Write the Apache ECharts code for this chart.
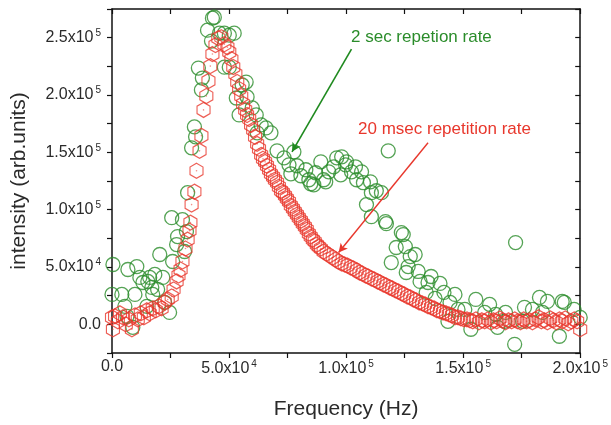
<!DOCTYPE html>
<html>
<head>
<meta charset="utf-8">
<script src="https://cdn.jsdelivr.net/npm/echarts@6/dist/echarts.min.js"></script>
<style>
html,body{margin:0;padding:0;background:#fff;}
#chart{width:611px;height:425px;}
</style>
</head>
<body>
<div id="chart"></div>
<script>
// ---- data (Frequency in Hz, intensity in arb. units) ----
const greenPoints = [
[400,52200],[0,26100],[4200,26100],[5500,15700],[6400,7000],[6800,47800],[8900,-2600],[9800,26100],[10600,50400],[11900,40900],
[13200,36500],[14900,15700],[15300,37400],[16100,40900],[17000,32200],[17400,26100],[18300,43500],[19500,30400],[20400,60900],[21700,40900],
[22500,19100],[24600,10400],[25500,93000],[25900,54800],[27600,69600],[28000,76500],[30100,91300],[31000,63500],[31800,80900],[32300,114800],
[34000,153900],[35200,172200],[35700,163500],[36900,223500],[38200,204400],[38600,214800],[40800,256500],[42500,247000],[42900,267000],[43700,267800],
[45900,253900],[48000,253900],[48000,224300],[50100,252200],[50100,224300],[52200,253900],[53100,197400],[55600,208700],[57300,211300],[54300,182600],
[57700,198300],[59900,188700],[61600,182600],[62000,167000],[63700,173900],[65800,171300],[67900,167000],[70500,151300],[73500,145200],[75600,139100],
[76400,131300],[77700,150400],[79000,138300],[80700,129600],[82800,134800],[84100,126100],[84900,122600],[87000,132200],[86200,121700],[89200,141700],
[90400,126100],[91300,124300],[92600,133000],[94700,137400],[96000,145200],[98100,146100],[97700,130400],[99800,139100],[100200,141700],[102300,133000],
[104000,137400],[104500,126100],[106600,133000],[107400,123500],[110400,124300],[110800,114800],[112900,116500],[115100,114800],[108700,104400],[110800,93900],
[116800,89600],[117200,87800],[118000,151300],[123600,80000],[124400,78300],[121400,67000],[125300,67800],[127400,59100],[129500,60900],[119300,53900],
[126500,50400],[130800,46100],[125700,45200],[136300,41700],[131600,37400],[135000,36500],[140100,35700],[134200,27800],[141800,27800],[146500,26100],
[138000,22600],[144400,19100],[143500,2600],[147800,13000],[150700,13000],[155400,21700],[153300,-4300],[159200,10400],[161300,17400],[163900,8700],
[164700,-2600],[167700,2600],[168100,10400],[172000,-17400],[172400,71300],[175400,2600],[176200,14800],[179600,13000],[182600,23500],[183900,10400],
[186000,20000],[190200,-26100],[191100,-10400],[192300,20000],[193200,19100],[197400,13000],[200000,6000]
];
const redPoints = [
[0,6100],[400,-4300],[1300,7000],[2500,2600],[3400,9600],[4700,6100],[5900,0],[7200,4300],[8500,-4300],[9800,7800],
[11000,4300],[12300,9600],[13600,6100],[14900,12200],[16100,9600],[17400,13900],[18700,12200],[20000,15700],[21200,13900],[22500,19100],
[23800,21700],[25500,24300],[26300,30400],[27600,37400],[28400,42600],[29300,47800],[30100,54800],[31400,66100],[32300,73900],[33100,81700],
[33500,88700],[34000,104400],[35200,115700],[36100,133900],[37400,151300],[38200,164400],[39100,187000],[40300,199100],[41200,212200],[42000,225200],
[42900,235700],[44200,243500],[45400,249600],[46700,250400],[48000,244300],[49300,241700],[50100,237400],[51000,231300],[51800,224400],[52700,218300],
[53500,211300],[54300,205200],[55200,199100],[56000,192200],[56900,187000],[57700,182600],[58600,179100],[59400,173900],[60300,169600],[61100,163500],
[62000,157400],[62800,153000],[63700,147800],[64500,144400],[65400,141700],[66200,138300],[67100,134800],[67900,131300],[68800,128700],[69600,126100],
[70500,123500],[71300,120000],[72200,116500],[73000,114800],[73900,112200],[74700,109600],[75600,107000],[76400,103500],[77300,100900],[78100,98300],
[79000,95700],[79800,93000],[80700,90400],[81500,87800],[82400,85200],[83200,82600],[84100,79100],[84900,76500],[85800,73900],[86600,72200],
[87500,69600],[88300,67800],[89200,66100],[90400,63500],[91700,61700],[93000,60000],[94300,58300],[95500,56500],[96800,54800],[98100,53000],
[99400,52200],[100600,51300],[101900,49600],[103200,48700],[104500,47000],[105700,45200],[107000,44300],[108300,42600],[109500,41700],[110800,40000],
[112100,39100],[113400,37400],[114600,36500],[115900,34800],[117200,33900],[118500,32200],[119700,31300],[121000,29600],[122300,28700],[123600,27000],
[124800,26100],[126100,24300],[127400,23500],[128700,21700],[129900,20900],[131200,19100],[132500,18300],[133700,17400],[135000,15700],[136300,14800],
[137600,13900],[138800,12200],[140100,11300],[141400,10400],[142700,9600],[143900,8700],[145200,7800],[146500,6100],[147800,6100],[149000,5200],
[150300,4300],[151600,4300],[152900,3500],[154100,2600],[155400,4300],[156700,1700],[158000,3500],[159200,2600],[160500,4300],[161800,1700],
[163000,3500],[164300,2600],[165600,5200],[166900,3500],[168100,1700],[169400,3500],[170700,2600],[172000,4300],[173200,2600],[174500,1700],
[175800,4300],[177100,2600],[178300,3500],[179600,1700],[180900,4300],[182200,6100],[183400,2600],[184700,3500],[186000,1700],[187200,5200],
[188500,3500],[189800,1700],[191100,4300],[192300,2600],[193600,5200],[194900,900],[196200,2600],[197400,4300],[198700,2600],[200000,-4300]
];
// tick labels: mantissa and exponent
const xTickValues = [0, 50000, 100000, 150000, 200000];
const xTickMant = ['0.0', '5.0x10', '1.0x10', '1.5x10', '2.0x10'];
const xTickExp = ['', '4', '5', '5', '5'];
const yTickValues = [0, 50000, 100000, 150000, 200000, 250000];
const yTickMant = ['0.0', '5.0x10', '1.0x10', '1.5x10', '2.0x10', '2.5x10'];
const yTickExp = ['', '4', '5', '5', '5', '5'];
// annotations: [text, arrow start [x,y], arrow end [x,y]]
const greenNote = '2 sec repetion rate';
const greenArrow = [[102300, 240000], [76900, 150400]];
const redNote = '20 msec repetition rate';
const redArrow = [[135000, 158300], [96800, 62600]];
const xName = 'Frequency (Hz)';
const yName = 'intensity (arb.units)';

const FONT = '"Liberation Sans", Arial, Helvetica, sans-serif';
const GREEN = '#2a8c2a';
const RED = '#e8372c';

function makeFmt(vals, mant, exp) {
  return function (v) {
    const i = vals.indexOf(Math.round(v));
    if (i < 0) return '';
    return exp[i] ? '{m|' + mant[i] + '}{e|' + exp[i] + '}' : '{m|' + mant[i] + '}';
  };
}
const rich = {
  m: { fontSize: 16, fontFamily: FONT, color: '#2a2a2a' },
  e: { fontSize: 10, fontFamily: FONT, color: '#2a2a2a', padding: [0, 0, 9, 2] }
};
const hexPath = 'path://M0,-1 L0.866,-0.5 L0.866,0.5 L0,1 L-0.866,0.5 L-0.866,-0.5 Z';

const chart = echarts.init(document.getElementById('chart'), null, { renderer: 'canvas' });
const axisLine = { show: true, onZero: false, lineStyle: { color: '#111', width: 1.5 } };
chart.setOption({
  animation: false,
  backgroundColor: '#fff',
  grid: { left: 112, right: 28, top: 9, bottom: 71, containLabel: false },
  xAxis: [{
    type: 'value', min: 0, max: 200000, interval: 25000, position: 'bottom',
    axisLine: axisLine,
    axisTick: { show: true, inside: false, length: 5, lineStyle: { color: '#111', width: 1.2 } },
    axisLabel: { formatter: makeFmt(xTickValues, xTickMant, xTickExp), rich: rich, margin: 6, hideOverlap: false, showMinLabel: true, showMaxLabel: true },
    splitLine: { show: false },
    name: xName, nameLocation: 'middle', nameGap: 46,
    nameTextStyle: { fontSize: 21, fontFamily: FONT, color: '#2a2a2a' }
  }, {
    type: 'value', min: 0, max: 200000, interval: 25000, position: 'top',
    axisLine: axisLine,
    axisTick: { show: true, inside: true, length: 5, lineStyle: { color: '#111', width: 1.2 } },
    axisLabel: { show: false }, splitLine: { show: false }
  }],
  yAxis: [{
    type: 'value', min: -25000, max: 275000, interval: 25000, position: 'left',
    axisLine: axisLine,
    axisTick: { show: true, inside: false, length: 5, lineStyle: { color: '#111', width: 1.2 } },
    axisLabel: { formatter: makeFmt(yTickValues, yTickMant, yTickExp), rich: rich, margin: 11, showMinLabel: true, showMaxLabel: true },
    splitLine: { show: false },
    name: yName, nameLocation: 'middle', nameGap: 82,
    nameTextStyle: { fontSize: 21, fontFamily: FONT, color: '#2a2a2a' }
  }, {
    type: 'value', min: -25000, max: 275000, interval: 25000, position: 'right',
    axisLine: axisLine,
    axisTick: { show: true, inside: true, length: 5, lineStyle: { color: '#111', width: 1.2 } },
    axisLabel: { show: false }, splitLine: { show: false }
  }],
  series: [{
    name: 'green', type: 'scatter', data: greenPoints, symbol: 'circle', symbolSize: 14, clip: true,
    itemStyle: { color: 'rgba(0,0,0,0)', borderColor: GREEN, borderWidth: 1.3 },
    markLine: {
      silent: true, symbol: ['none', 'arrow'], symbolSize: [7, 9], animation: false,
      label: { show: false },
      lineStyle: { color: '#1f8a1f', width: 1.6, type: 'solid' },
      data: [[{ coord: greenArrow[0] }, { coord: greenArrow[1] }]]
    }
  }, {
    name: 'red', type: 'scatter', data: redPoints, symbol: hexPath, symbolSize: [13, 15], clip: true,
    itemStyle: { color: 'rgba(0,0,0,0)', borderColor: RED, borderWidth: 1.2 },
    markLine: {
      silent: true, symbol: ['none', 'arrow'], symbolSize: [7, 9], animation: false,
      label: { show: false },
      lineStyle: { color: RED, width: 1.4, type: 'solid' },
      data: [[{ coord: redArrow[0] }, { coord: redArrow[1] }]]
    }
  }, {
    name: 'redDot', type: 'scatter', data: redPoints, symbol: 'circle', symbolSize: 1.6, clip: true,
    itemStyle: { color: 'rgba(232,55,44,0.7)' }, silent: true
  }],
  graphic: [{
    type: 'text', left: 351, top: 29,
    style: { text: greenNote, fill: GREEN, font: '17px ' + FONT }
  }, {
    type: 'text', left: 358, top: 121,
    style: { text: redNote, fill: RED, font: '17px ' + FONT }
  }]
});
</script>
</body>
</html>
